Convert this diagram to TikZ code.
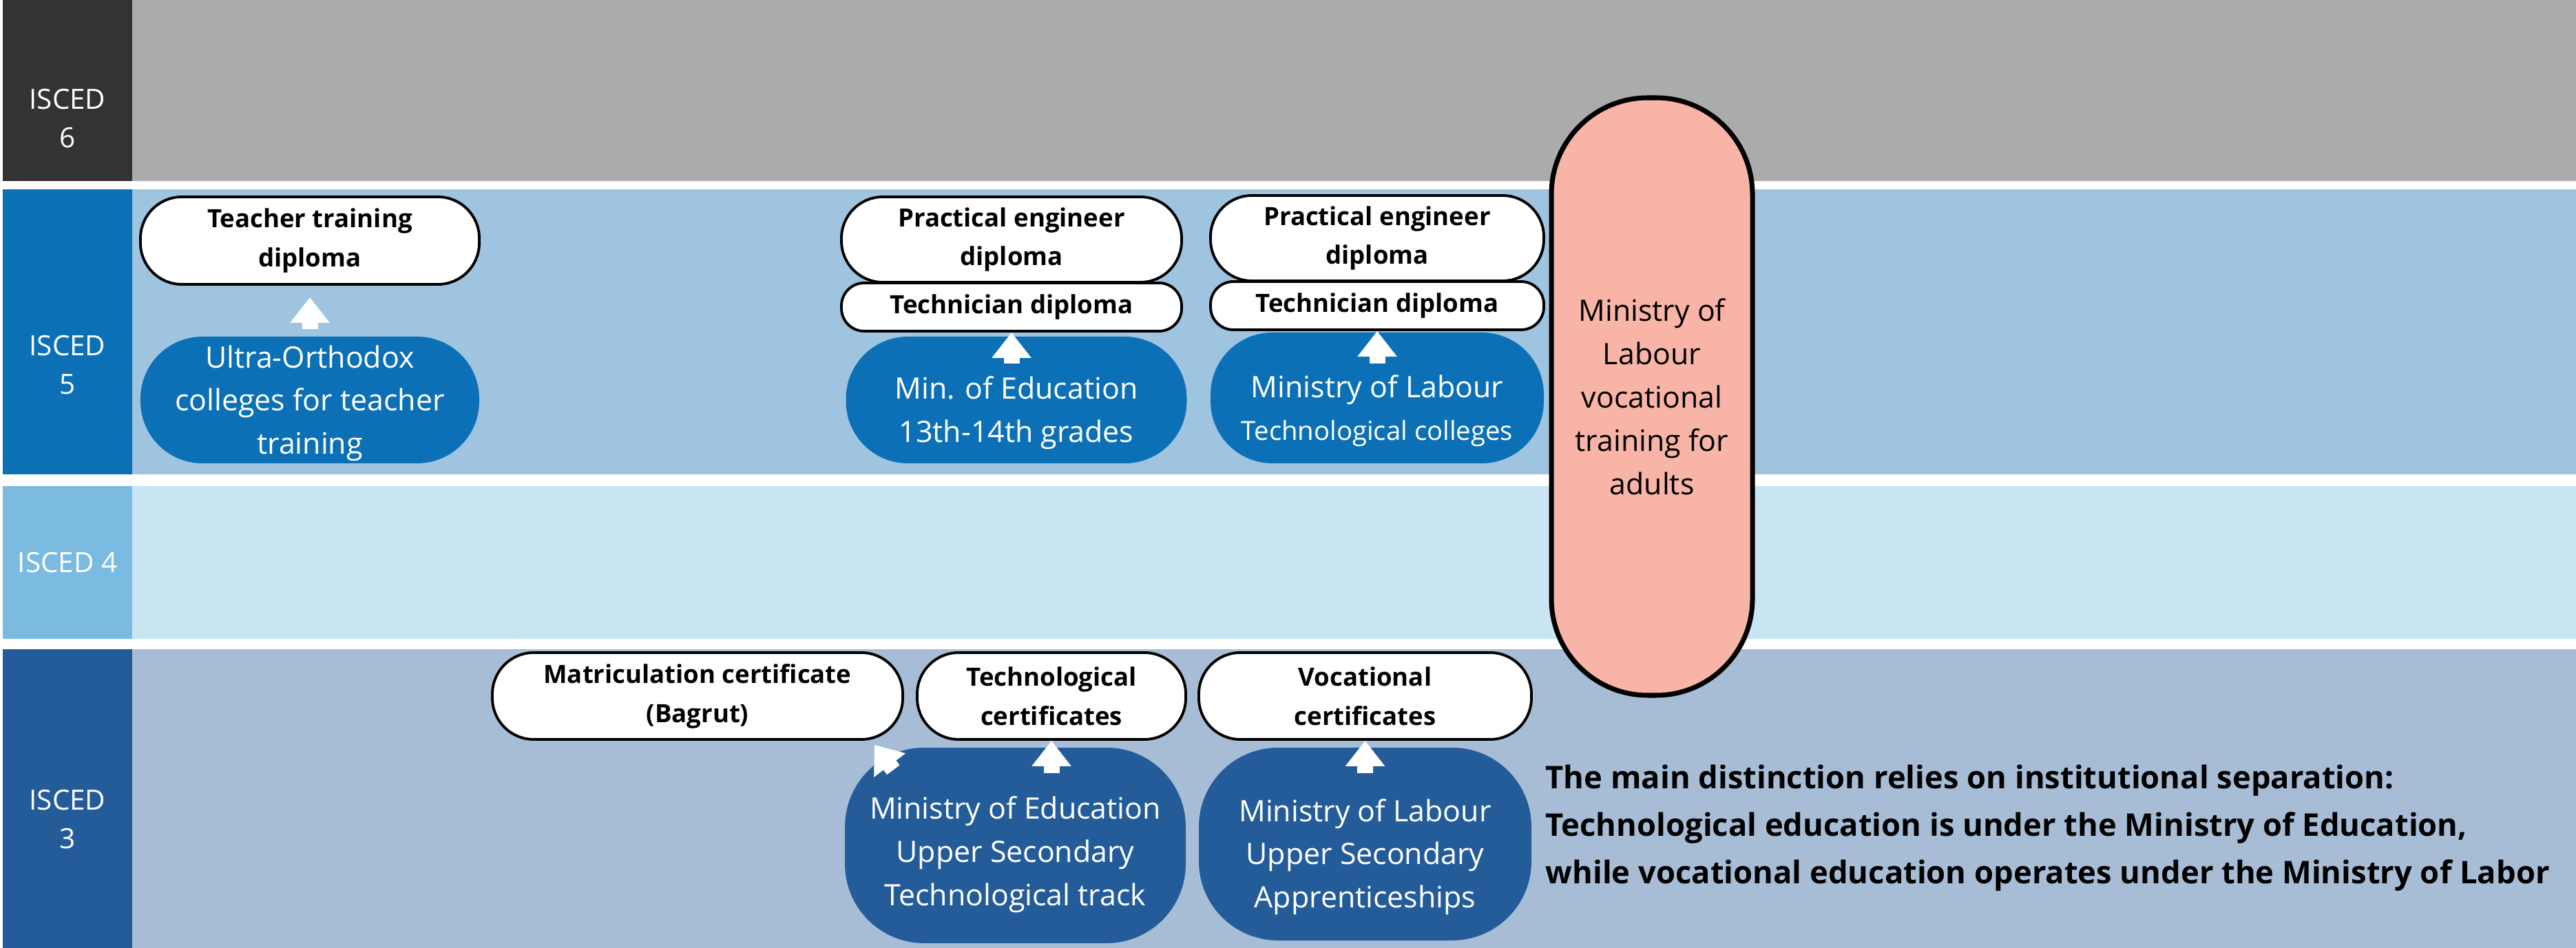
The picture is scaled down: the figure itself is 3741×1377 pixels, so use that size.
\documentclass[tikz,border=0pt]{standalone}
\usepackage{fontspec}
\setmainfont{Open Sans}
\usepackage{tikz}
\usetikzlibrary{arrows.meta}
\usepackage{xcolor}
\definecolor{ColSix}{RGB}{51,51,51}
\definecolor{ColSixBg}{RGB}{171,171,171}
\definecolor{ColFive}{RGB}{12,112,183}
\definecolor{ColFiveBg}{RGB}{158,196,224}
\definecolor{ColFour}{RGB}{123,187,225}
\definecolor{ColFourBg}{RGB}{201,228,243}
\definecolor{ColThree}{RGB}{36,92,154}
\definecolor{ColThreeBg}{RGB}{167,189,214}
\definecolor{ColPink}{RGB}{248,180,166}
\newcommand{\LowPad}[1]{\rule{0pt}{#1}}
\tikzstyle{LevelBox}=[rectangle,inner sep=0pt,minimum width=18.8mm]
\tikzstyle{LevelText}=[inner sep=0pt,text=white,align=center,font=\fontsize{11.5}{16}\selectfont]
\tikzstyle{LevelBand}=[rectangle,inner sep=0pt,minimum width=354.9mm]
\tikzstyle{DiplomaNode}=[rectangle,rounded corners=6mm,draw=black,fill=white,line width=1.1pt,inner sep=0pt,
align=center,font=\bfseries\fontsize{10.4}{16.2}\selectfont]
\tikzstyle{TechNode}=[DiplomaNode,rounded corners=3.3mm,minimum height=7mm]
\tikzstyle{InstNode}=[rectangle,rounded corners=9mm,inner sep=0pt,text=white,align=center,
font=\fontsize{12.2}{17.9}\selectfont]
\tikzstyle{PillNode}=[rectangle,rounded corners=14mm,draw=black,fill=ColPink,line width=2pt,inner sep=0pt,
minimum width=29.2mm,minimum height=86.8mm,align=center,font=\fontsize{12.2}{17.9}\selectfont]
\tikzstyle{NoteText}=[anchor=west,inner sep=0pt,align=left,font=\bfseries\fontsize{12.9}{19.6}\selectfont]
\tikzstyle{UpArrow}=[white,line width=2.3mm,-{Triangle[width=5.5mm,length=3.7mm]}]
\begin{document}
\begin{tikzpicture}[x=0.1mm,y=-0.1mm]
        \useasboundingbox(0,0)rectangle(3741,1377);
        \node[LevelBand,fill=ColSixBg,minimum height=26.3mm](bsix)at(1966.5,131.5){};
        \node[LevelBand,fill=ColFiveBg,minimum height=41.4mm](bfive)at(1966.5,482){};
        \node[LevelBand,fill=ColFourBg,minimum height=22.2mm](bfour)at(1966.5,817){};
        \node[LevelBand,fill=ColThreeBg,minimum height=43.4mm](bthree)at(1966.5,1160){};
        \node[LevelBox,fill=ColSix,minimum height=26.3mm](lsix)at(98,131.5){};
        \node[LevelBox,fill=ColFive,minimum height=41.4mm](lfive)at(98,482){};
        \node[LevelBox,fill=ColFour,minimum height=22.2mm](lfour)at(98,817){};
        \node[LevelBox,fill=ColThree,minimum height=43.4mm](lthree)at(98,1160){};
        \node[LevelText](tsix)at(98,172){ISCED\\6};
        \node[LevelText](tfive)at(98,530){ISCED\\5};
        \node[LevelText](tfour)at(98,817){ISCED 4};
        \node[LevelText](tthree)at(98,1190){ISCED\\3};
        \node[PillNode](adult)at(2399,576){Ministry of\\Labour\\vocational\\training for\\adults};
        \node[DiplomaNode,minimum width=49.2mm,minimum height=12.7mm](td)at(450,349.5){Teacher training\\diploma};
        \node[DiplomaNode,minimum width=49.4mm,minimum height=12.4mm](pedone)at(1469,348){Practical engineer\\diploma};
        \node[TechNode,minimum width=49.4mm](techone)at(1469,446){Technician diploma};
        \node[DiplomaNode,minimum width=48.4mm,minimum height=12.4mm](pedtwo)at(2000,346){Practical engineer\\diploma};
        \node[TechNode,minimum width=48.4mm](techtwo)at(2000,444){Technician diploma};
        \node[DiplomaNode,minimum width=59.6mm,minimum height=12.6mm](mat)at(1013,1011){Matriculation certificate\\(Bagrut)};
        \node[DiplomaNode,minimum width=39mm,minimum height=12.6mm](tcert)at(1527,1011){Technological\\certificates};
        \node[DiplomaNode,minimum width=48.3mm,minimum height=12.6mm](vcert)at(1982.5,1011){Vocational\\certificates};
        \node[InstNode,fill=ColFive,minimum width=49.2mm,minimum height=18.4mm](ucol)at(450,581){\LowPad{12pt}Ultra-Orthodox\\colleges for teacher\\training};
        \node[InstNode,fill=ColFive,minimum width=49.5mm,minimum height=18.4mm](moe)at(1476,581){\LowPad{20pt}Min. of Education\\13th-14th grades};
        \node[InstNode,fill=ColFive,minimum width=48.4mm,minimum height=19mm](mol)at(2000,578){\LowPad{20pt}Ministry of Labour\\{\fontsize{10.9}{15}\selectfont Technological colleges}};
        \node[InstNode,fill=ColThree,minimum width=49.5mm,minimum height=28.4mm,rounded corners=11.5mm](moeup)at(1474.5,1228){\LowPad{17pt}Ministry of Education\\Upper Secondary\\Technological track};
        \node[InstNode,fill=ColThree,minimum width=48.3mm,minimum height=28mm,rounded corners=11.5mm](molup)at(1982.5,1226){\LowPad{20pt}Ministry of Labour\\Upper Secondary\\Apprenticeships};
        \node[NoteText](note)at(2244,1203){The main distinction relies on institutional separation:\\Technological education is under the Ministry of Education,\\while vocational education operates under the Ministry of Labor};
        \draw[UpArrow]([yshift=1mm]ucol.north)--([yshift=-1.7mm]td.south);
        \draw[UpArrow]([yshift=-4mm]techone.south|-moe.north)--(techone.south);
        \draw[UpArrow]([yshift=-4.6mm]techtwo.south|-mol.north)--(techtwo.south);
        \draw[UpArrow]([yshift=-3.8mm]tcert.south|-moeup.north)--(tcert.south);
        \draw[UpArrow]([yshift=-3.8mm]vcert.south|-molup.north)--(vcert.south);
        \draw[UpArrow]([xshift=7.1mm,yshift=-3.3mm]moeup.north west)--([xshift=-4.3mm,yshift=-0.6mm]mat.south east);
    \end{tikzpicture}
\end{document}
